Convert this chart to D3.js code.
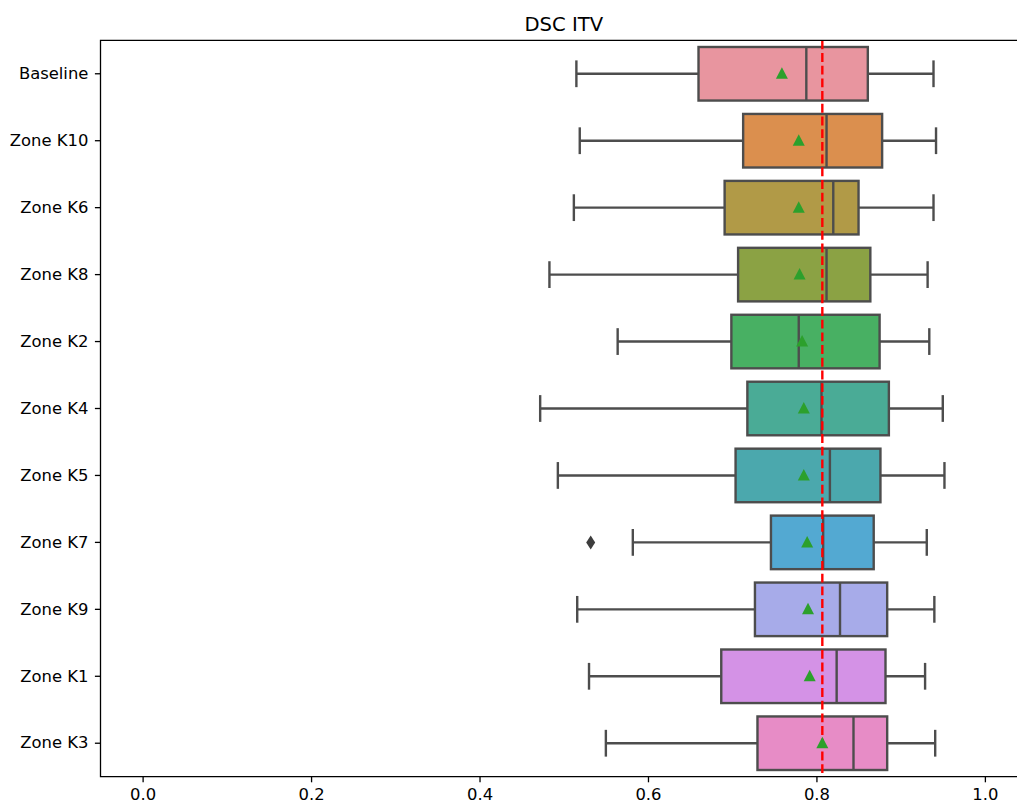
<!DOCTYPE html>
<html>
<head>
<meta charset="utf-8">
<script src="https://cdn.jsdelivr.net/npm/d3@7"></script>
<style>
  html, body { margin: 0; padding: 0; background: #fff; }
  svg { display: block; }
  text { font-family: "DejaVu Sans", sans-serif; fill: #000; }
</style>
</head>
<body>
<svg id="chart" width="1017" height="803"></svg>
<script>
// ---- data ----
const categories = ["Baseline", "Zone K10", "Zone K6", "Zone K8", "Zone K2", "Zone K4",
                    "Zone K5", "Zone K7", "Zone K9", "Zone K1", "Zone K3"];
const whiskerLow  = [0.515, 0.519, 0.512, 0.483, 0.564, 0.472, 0.493, 0.582, 0.516, 0.530, 0.550];
const q1          = [0.660, 0.713, 0.691, 0.707, 0.699, 0.718, 0.704, 0.746, 0.727, 0.687, 0.730];
const medians     = [0.788, 0.812, 0.820, 0.812, 0.779, 0.806, 0.816, 0.808, 0.828, 0.824, 0.844];
const q3          = [0.861, 0.878, 0.850, 0.864, 0.875, 0.886, 0.876, 0.868, 0.884, 0.882, 0.884];
const whiskerHigh = [0.939, 0.942, 0.939, 0.932, 0.934, 0.950, 0.952, 0.931, 0.940, 0.929, 0.941];
const means       = [0.759, 0.779, 0.779, 0.780, 0.783, 0.785, 0.785, 0.789, 0.790, 0.792, 0.807];
const outlierCats = ["Zone K7"];
const outlierVals = [0.532];
const refLine = 0.807;
const xTicks = [0.0, 0.2, 0.4, 0.6, 0.8, 1.0];
const colors = ["#e8959f", "#db8f4e", "#b19a47", "#8ba244", "#48b063", "#4aab96",
                "#4ba8ad", "#53a9d2", "#a7abe9", "#d492e6", "#e78cc6"];
const title = "DSC ITV";

(function () {
// ---- layout ----
const svg = d3.select("#chart");
const L = 100.5, R = 1027, T = 40.3, B = 776.7;

const x = d3.scaleLinear().domain([-0.05, 1.05]).range([L, R]);
const y = d3.scaleBand().domain(categories).range([T, B]).paddingInner(0).paddingOuter(0);
const bw = y.bandwidth();
const boxH = bw * 0.8;
const capH = bw * 0.4;
const edge = "#4d4d4d";
const lw = 2.4;

const rows = categories.map((c, i) => ({
  cat: c, lo: whiskerLow[i], q1: q1[i], med: medians[i], q3: q3[i], hi: whiskerHigh[i],
  mean: means[i], color: colors[i]
}));

const g = svg.append("g");

// whiskers
rows.forEach(d => {
  const cy = y(d.cat) + bw / 2;
  g.append("line").attr("x1", x(d.lo)).attr("x2", x(d.q1)).attr("y1", cy).attr("y2", cy)
    .attr("stroke", edge).attr("stroke-width", lw);
  g.append("line").attr("x1", x(d.q3)).attr("x2", x(d.hi)).attr("y1", cy).attr("y2", cy)
    .attr("stroke", edge).attr("stroke-width", lw);
  [d.lo, d.hi].forEach(v => {
    g.append("line").attr("x1", x(v)).attr("x2", x(v))
      .attr("y1", cy - capH / 2).attr("y2", cy + capH / 2)
      .attr("stroke", edge).attr("stroke-width", lw);
  });
});

// boxes
g.selectAll("rect.box").data(rows).join("rect").attr("class", "box")
  .attr("x", d => x(d.q1)).attr("width", d => x(d.q3) - x(d.q1))
  .attr("y", d => y(d.cat) + (bw - boxH) / 2).attr("height", boxH)
  .attr("fill", d => d.color).attr("stroke", edge).attr("stroke-width", lw);

// medians
g.selectAll("line.med").data(rows).join("line").attr("class", "med")
  .attr("x1", d => x(d.med)).attr("x2", d => x(d.med))
  .attr("y1", d => y(d.cat) + (bw - boxH) / 2).attr("y2", d => y(d.cat) + (bw + boxH) / 2)
  .attr("stroke", edge).attr("stroke-width", lw);

// outliers (diamond)
outlierCats.forEach((c, i) => {
  const cx = x(outlierVals[i]), cy = y(c) + bw / 2;
  g.append("path")
    .attr("d", `M${cx},${cy - 7} L${cx + 4.5},${cy} L${cx},${cy + 7} L${cx - 4.5},${cy} Z`)
    .attr("fill", "#3d3d3d");
});

// reference line
g.append("line").attr("x1", x(refLine)).attr("x2", x(refLine))
  .attr("y1", T).attr("y2", B)
  .attr("stroke", "red").attr("stroke-width", 2.4).attr("stroke-dasharray", "8.9,3.8");

// means (triangles)
g.selectAll("path.mean").data(rows).join("path").attr("class", "mean")
  .attr("d", d => {
    const cx = x(d.mean), cy = y(d.cat) + bw / 2;
    return `M${cx},${cy - 6.5} L${cx + 6},${cy + 5} L${cx - 6},${cy + 5} Z`;
  })
  .attr("fill", "#2ca02c");

// spines
svg.append("path")
  .attr("d", `M${L},${T} L${R},${T} L${R},${B} L${L},${B} Z`)
  .attr("fill", "none").attr("stroke", "#000").attr("stroke-width", 1.3);

// axes
const xAxis = d3.axisBottom(x).tickValues(xTicks).tickFormat(d3.format(".1f"))
  .tickSize(5.6).tickPadding(5.6);
const gx = svg.append("g").attr("transform", `translate(0,${B})`).call(xAxis);
gx.select(".domain").remove();
gx.selectAll("line").attr("stroke", "#000").attr("stroke-width", 1.3);
gx.selectAll("text").attr("font-size", 16.4).attr("font-family", "DejaVu Sans").attr("fill", "#000");

const yAxis = d3.axisLeft(y).tickSize(5.6).tickPadding(6.5);
const gy = svg.append("g").attr("transform", `translate(${L},0)`).call(yAxis);
gy.select(".domain").remove();
gy.selectAll("line").attr("stroke", "#000").attr("stroke-width", 1.3);
gy.selectAll("text").attr("font-size", 16.4).attr("font-family", "DejaVu Sans").attr("fill", "#000");

// title
svg.append("text").attr("x", (L + R) / 2).attr("y", T - 9.7)
  .attr("text-anchor", "middle").attr("font-size", 19.6).text(title);
})();
</script>
</body>
</html>
